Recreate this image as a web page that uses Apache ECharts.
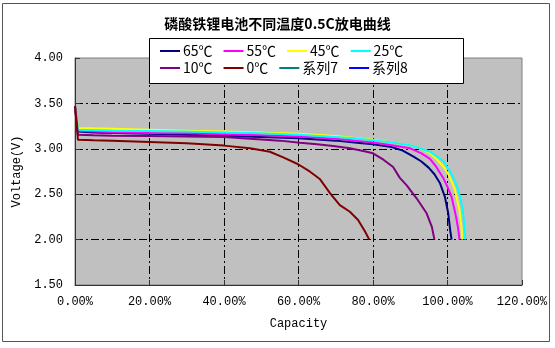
<!DOCTYPE html>
<html>
<head>
<meta charset="utf-8">
<script src="https://cdn.jsdelivr.net/npm/echarts@6/dist/echarts.min.js"></script>
<style>
  html, body { margin: 0; padding: 0; background: #fff; }
  #chart { width: 555px; height: 348px; }
</style>
</head>
<body>
<div id="chart"></div>
<script>
// LiFePO4 cell discharge at 0.5C, one curve per temperature
const titleText = '磷酸铁锂电池不同温度0.5C放电曲线';
const seriesNames = ['65℃', '55℃', '45℃', '25℃', '10℃', '0℃', '系列7', '系列8'];
const seriesColors = ['#000080', '#ff00ff', '#ffff00', '#00ffff', '#800080', '#800000', '#008080', '#0000ff'];
const xTicks = [0, 20, 40, 60, 80, 100, 120];
const yTicks = [1.5, 2.0, 2.5, 3.0, 3.5, 4.0];

// capacity (%) and voltage (V) per curve
const cap65  = [0, 0.8, 5, 10, 20, 30, 40, 50, 60, 70, 75, 80, 85, 88, 91, 93, 95, 96.5, 98, 99.3, 100.2, 100.7, 101.1];
const volt65 = [3.47, 3.19, 3.18, 3.175, 3.165, 3.155, 3.145, 3.13, 3.115, 3.09, 3.07, 3.05, 3.02, 2.98, 2.91, 2.86, 2.79, 2.72, 2.62, 2.47, 2.29, 2.11, 2.0];

const cap55  = [0, 0.8, 5, 10, 20, 30, 40, 50, 60, 70, 75, 80, 85, 90, 93, 95.3, 97, 98.9, 100, 101.1, 102.3, 102.9, 103.2];
const volt55 = [3.47, 3.2, 3.19, 3.185, 3.175, 3.17, 3.16, 3.15, 3.135, 3.11, 3.09, 3.07, 3.04, 3.005, 2.95, 2.89, 2.8, 2.675, 2.58, 2.47, 2.25, 2.11, 2.0];

const cap45  = [0, 0.8, 5, 10, 20, 30, 40, 50, 60, 70, 75, 80, 85, 90, 93, 95.3, 97, 99, 100.5, 102, 103.2, 103.8, 104];
const volt45 = [3.47, 3.23, 3.225, 3.22, 3.21, 3.2, 3.19, 3.18, 3.165, 3.14, 3.12, 3.1, 3.07, 3.04, 3.0, 2.95, 2.89, 2.8, 2.7, 2.55, 2.33, 2.11, 2.0];

const cap25  = [0, 0.8, 5, 10, 20, 30, 40, 50, 60, 70, 75, 80, 85, 90, 93, 95.3, 97, 99, 100.7, 102, 102.9, 103.6, 104.1, 104.6, 104.8];
const volt25 = [3.47, 3.21, 3.205, 3.2, 3.195, 3.19, 3.18, 3.17, 3.155, 3.13, 3.115, 3.095, 3.07, 3.04, 3.0, 2.968, 2.92, 2.86, 2.75, 2.64, 2.55, 2.43, 2.33, 2.11, 2.0];

const cap10  = [0, 0.8, 5, 10, 20, 30, 40, 47, 55, 60.4, 65, 69.3, 73.8, 78.3, 80, 82.8, 85.4, 87.2, 89, 91.7, 94.4, 95.8, 96.5];
const volt10 = [3.47, 3.155, 3.15, 3.145, 3.14, 3.135, 3.13, 3.11, 3.09, 3.067, 3.05, 3.03, 3.005, 2.968, 2.95, 2.88, 2.8, 2.68, 2.6, 2.455, 2.29, 2.14, 2.0];

const cap0   = [0, 0.8, 5, 10, 20, 30, 40, 47, 52.3, 55.9, 59.9, 63.1, 65.8, 68.5, 71.1, 73.8, 76, 77.9, 79];
const volt0  = [3.47, 3.1, 3.095, 3.09, 3.075, 3.06, 3.035, 3.005, 2.968, 2.905, 2.83, 2.748, 2.664, 2.51, 2.38, 2.307, 2.216, 2.087, 2.0];

const cap7 = [], volt7 = [];
const cap8 = [], volt8 = [];

const capSets  = [cap65, cap55, cap45, cap25, cap10, cap0, cap7, cap8];
const voltSets = [volt65, volt55, volt45, volt25, volt10, volt0, volt7, volt8];

const zip = (xs, ys) => xs.map((x, i) => [x, ys[i]]);

const monoFont = '"Liberation Mono", "DejaVu Sans Mono", monospace';
const cjkFont = '"Noto Sans CJK SC", "Noto Sans", sans-serif';
const dashDot = [8, 3, 2, 3];

const legendCommon = {
  orient: 'horizontal',
  itemWidth: 20,
  itemHeight: 10,
  itemGap: 11,
  icon: 'path://M0,4 L20,4 L20,6 L0,6 Z',
  padding: 0,
  z: 20,
  textStyle: { fontFamily: cjkFont, fontSize: 14, color: '#000', width: 40, padding: [0, 0, 0, -2] }
};

const chart = echarts.init(document.getElementById('chart'), null, { renderer: 'canvas' });
chart.setOption({
  backgroundColor: '#fff',
  animation: false,
  title: {
    text: titleText,
    left: 'center',
    top: 12,
    textStyle: { fontFamily: cjkFont, fontSize: 14, fontWeight: 'bold', color: '#000' }
  },
  graphic: [
    { type: 'rect', z: 0, silent: true,
      shape: { x: 2.5, y: 3.5, width: 547, height: 338 },
      style: { fill: 'none', stroke: '#555', lineWidth: 1 } },
    { type: 'rect', z: 15, zlevel: 0, silent: true,
      shape: { x: 149.5, y: 38.5, width: 314, height: 45 },
      style: { fill: '#fff', stroke: '#000', lineWidth: 1 } }
  ],
  legend: [
    Object.assign({}, legendCommon, { left: 160, top: 44, data: seriesNames.slice(0, 4) }),
    Object.assign({}, legendCommon, { left: 160, top: 61, data: seriesNames.slice(4, 8) })
  ],
  grid: {
    left: 75, right: 33, top: 58, bottom: 63,
    show: true,
    backgroundColor: '#c0c0c0',
    borderColor: '#808080',
    borderWidth: 1
  },
  xAxis: {
    type: 'value',
    min: xTicks[0],
    max: xTicks[xTicks.length - 1],
    interval: xTicks[1] - xTicks[0],
    name: 'Capacity',
    nameLocation: 'middle',
    nameGap: 33,
    nameTextStyle: { fontFamily: monoFont, fontSize: 12, color: '#000' },
    axisLine: { lineStyle: { color: '#333', width: 1 } },
    axisTick: { inside: true, length: 5, lineStyle: { color: '#333' } },
    axisLabel: {
      margin: 11,
      fontFamily: monoFont, fontSize: 12, color: '#000',
      formatter: v => v.toFixed(2) + '%'
    },
    splitLine: {
      show: true, showMinLine: false, showMaxLine: false,
      lineStyle: { color: '#000', width: 1, type: dashDot }
    }
  },
  yAxis: {
    type: 'value',
    min: yTicks[0],
    max: yTicks[yTicks.length - 1],
    interval: 0.5,
    name: 'Voltage(V)',
    nameLocation: 'middle',
    nameGap: 52,
    nameTextStyle: { fontFamily: monoFont, fontSize: 12, color: '#000' },
    axisLine: { show: true, lineStyle: { color: '#333', width: 1 } },
    axisTick: { show: true, inside: true, length: 5, lineStyle: { color: '#333' } },
    axisLabel: {
      margin: 12,
      fontFamily: monoFont, fontSize: 12, color: '#000',
      formatter: v => v.toFixed(2)
    },
    splitLine: {
      show: true, showMinLine: false, showMaxLine: false,
      lineStyle: { color: '#000', width: 1, type: dashDot }
    }
  },
  series: seriesNames.map((name, i) => ({
    name: name,
    type: 'line',
    data: zip(capSets[i], voltSets[i]),
    showSymbol: false,
    symbol: 'none',
    color: seriesColors[i],
    lineStyle: { width: 2, color: seriesColors[i] },
    z: 3
  }))
});
</script>
</body>
</html>
